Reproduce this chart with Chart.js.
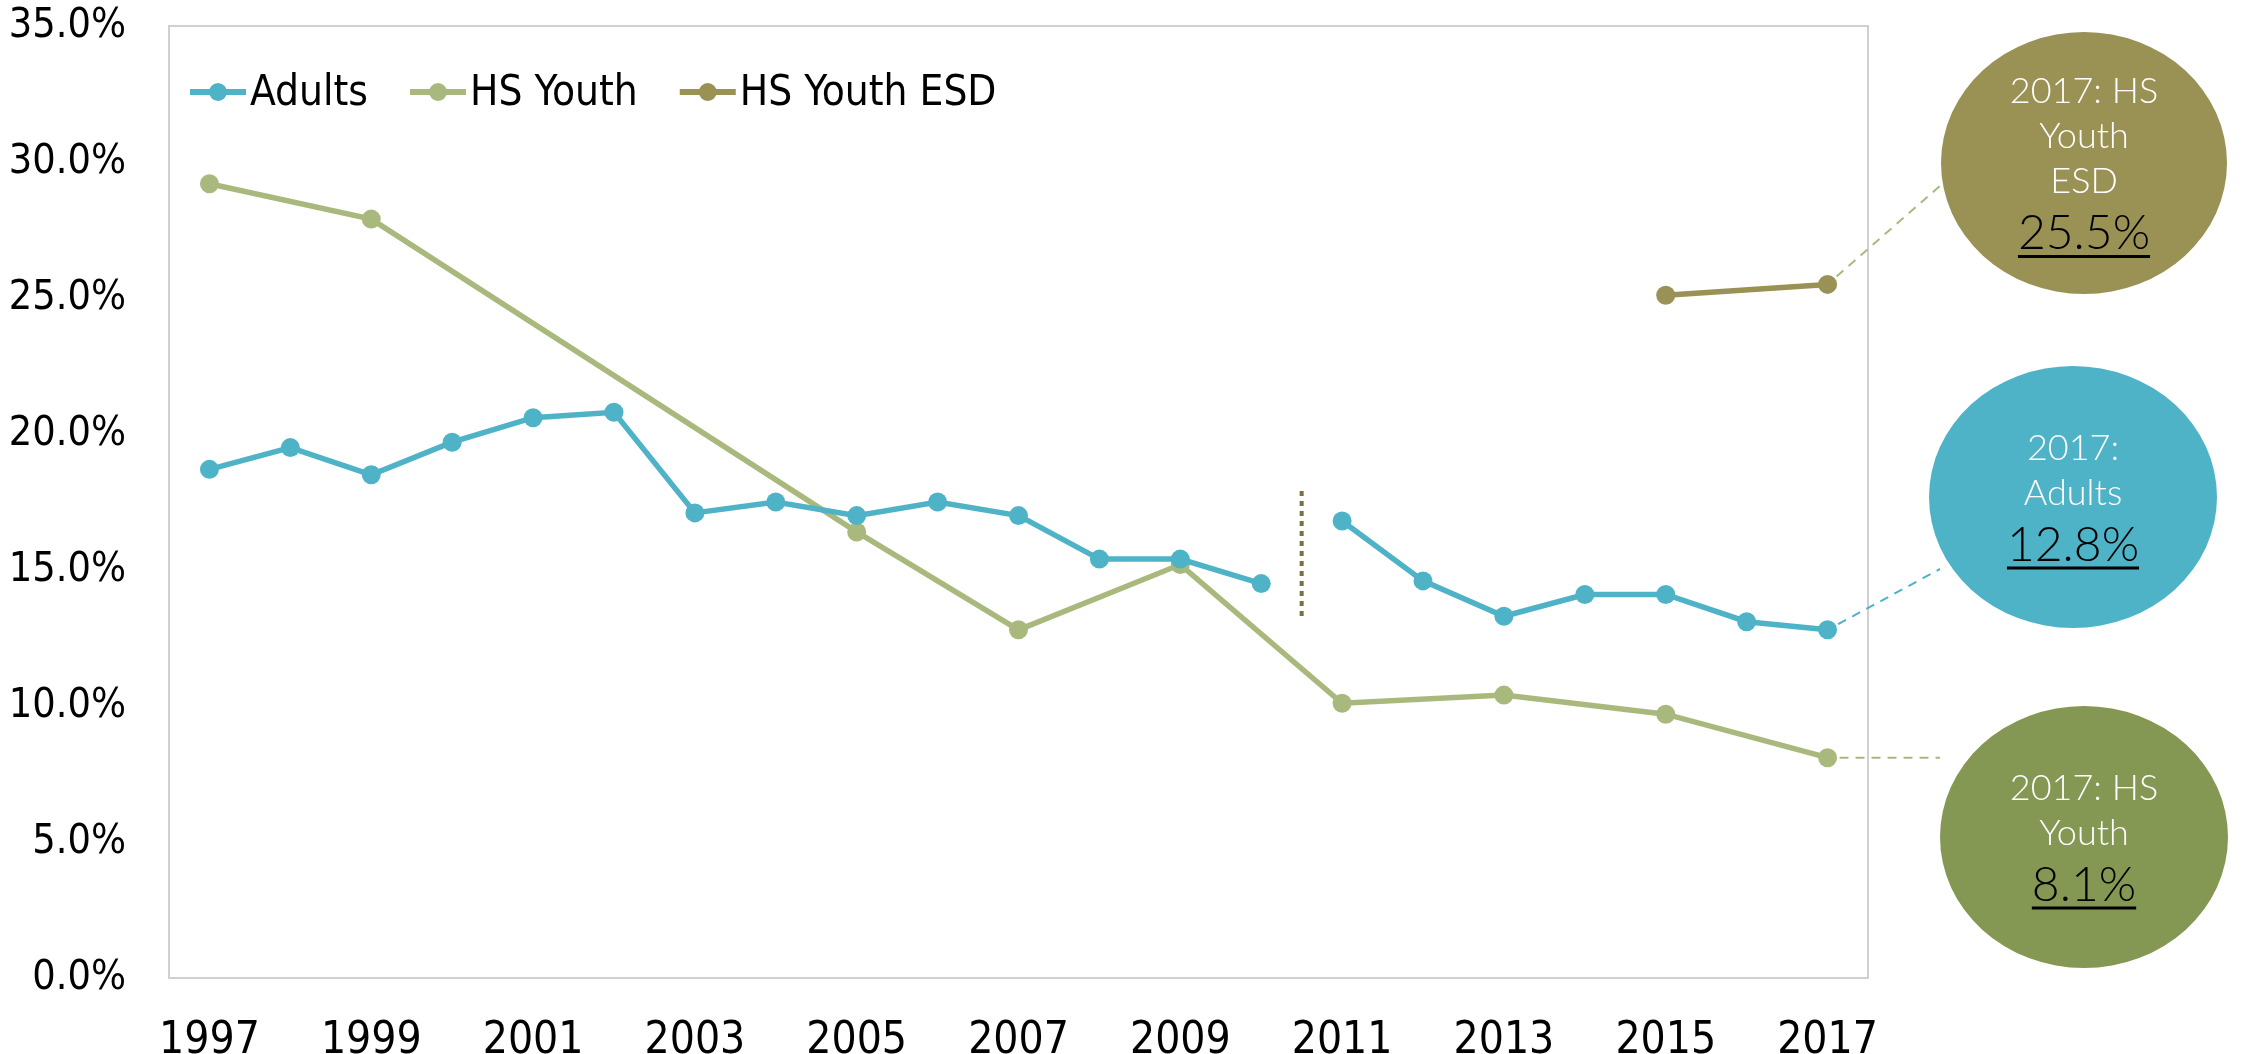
<!DOCTYPE html>
<html>
<head>
<meta charset="utf-8">
<title>Smoking rates</title>
<script src="https://cdn.jsdelivr.net/npm/chart.js@4.4.1/dist/chart.umd.min.js"></script>
<style>
    html, body { margin: 0; padding: 0; background: #fff; }
    #wrap { width: 2245px; height: 1054px; }
</style>
</head>
<body>
<div id="wrap"><canvas id="lineChart" width="2245" height="1054"></canvas></div>
<script>
// Data (percent)
const years = ['1997', '1998', '1999', '2000', '2001', '2002', '2003', '2004', '2005', '2006', '2007',
    '2008', '2009', '2010', '2011', '2012', '2013', '2014', '2015', '2016', '2017'];
const adults = [18.7, 19.5, 18.5, 19.7, 20.6, 20.8, 17.1, 17.5, 17.0, 17.5, 17.0,
    15.4, 15.4, 14.5, 16.8, 14.6, 13.3, 14.1, 14.1, 13.1, 12.8];
const hsYouth = [29.2, null, 27.9, null, null, null, null, null, 16.4, null, 12.8,
    null, 15.2, null, 10.1, null, 10.4, null, 9.7, null, 8.1];
const hsYouthEsd = [null, null, null, null, null, null, null, null, null, null, null,
    null, null, null, null, null, null, null, 25.1, null, 25.5];
const yTicks = [0, 5, 10, 15, 20, 25, 30, 35];
const seriesNames = ['Adults', 'HS Youth', 'HS Youth ESD'];
const seriesColors = ['#4fb3c8', '#a9b97d', '#9a9155'];
const calloutFills = ['#4fb3c8', '#849753', '#9a9155'];
const calloutLines = [['2017:', 'Adults'], ['2017: HS', 'Youth'], ['2017: HS', 'Youth', 'ESD']];
const surveyBreak = ['2010', '2011'];  // methodology change marker
const breakSpan = [13.2, 17.9];

const axisFont = "'Liberation Sans Narrow', 'DejaVu Sans Condensed', sans-serif";
const calloutFont = "Lato, 'Open Sans', sans-serif";

// callout bubbles (pixel layout only)
const bubbles = [
    { cx: 2073, cy: 497, rx: 144, ry: 131, end: [1940, 569] },
    { cx: 2084, cy: 837, rx: 144, ry: 131, end: [1940, null] },
    { cx: 2084, cy: 163, rx: 143, ry: 131, end: [1941, 185] }
];

const decor = {
    id: 'decor',
    beforeDatasetsDraw(chart) {
        const { ctx, chartArea: a } = chart;
        ctx.save();
        ctx.strokeStyle = '#d0d0d0';
        ctx.lineWidth = 2;
        ctx.strokeRect(a.left, a.top, a.right - a.left, a.bottom - a.top);
        ctx.restore();
    },
    afterDatasetsDraw(chart) {
        const { ctx, chartArea: a } = chart;
        const xs = chart.scales.x, ys = chart.scales.y;

        // dotted break line between 2010 and 2011
        const bx = (xs.getPixelForValue(years.indexOf(surveyBreak[0])) + xs.getPixelForValue(years.indexOf(surveyBreak[1]))) / 2;
        ctx.save();
        ctx.strokeStyle = '#7a6f45';
        ctx.lineWidth = 4;
        ctx.setLineDash([5, 5]);
        ctx.beginPath();
        ctx.moveTo(bx, ys.getPixelForValue(breakSpan[1]));
        ctx.lineTo(bx, ys.getPixelForValue(breakSpan[0]));
        ctx.stroke();
        ctx.restore();

        // legend inside the plot
        ctx.save();
        ctx.font = '42px ' + axisFont;
        ctx.textBaseline = 'middle';
        let lx = a.left + 21;
        const ly = a.top + 66;
        seriesNames.forEach((name, i) => {
            ctx.strokeStyle = seriesColors[i];
            ctx.fillStyle = seriesColors[i];
            ctx.lineWidth = 6;
            ctx.beginPath();
            ctx.moveTo(lx, ly);
            ctx.lineTo(lx + 56, ly);
            ctx.stroke();
            ctx.beginPath();
            ctx.arc(lx + 28, ly, 9, 0, Math.PI * 2);
            ctx.fill();
            ctx.fillStyle = '#000';
            ctx.fillText(name, lx + 60, ly + 2);
            lx += 60 + ctx.measureText(name).width + 42;
        });
        ctx.restore();

        // connectors + bubbles
        const last = years.length - 1;
        chart.data.datasets.forEach((ds, i) => {
            const b = bubbles[i];
            const px = xs.getPixelForValue(last);
            const py = ys.getPixelForValue(ds.data[last]);
            const ex = b.end[0], ey = b.end[1] === null ? py : b.end[1];
            ctx.save();
            ctx.strokeStyle = i === 0 ? seriesColors[0] : seriesColors[1];
            ctx.lineWidth = 2;
            ctx.setLineDash([9, 7]);
            ctx.beginPath();
            const ang = Math.atan2(ey - py, ex - px);
            ctx.moveTo(px + Math.cos(ang) * 12, py + Math.sin(ang) * 12);
            ctx.lineTo(ex, ey);
            ctx.stroke();
            ctx.setLineDash([]);

            ctx.fillStyle = calloutFills[i];
            ctx.beginPath();
            ctx.ellipse(b.cx, b.cy, b.rx, b.ry, 0, 0, Math.PI * 2);
            ctx.fill();

            const lines = calloutLines[i];
            const total = 45 * (lines.length - 1) + 56;
            let y = b.cy - total / 2 + 13;
            ctx.textAlign = 'center';
            ctx.textBaseline = 'alphabetic';
            ctx.fillStyle = '#fff';
            ctx.font = '300 36px ' + calloutFont;
            lines.forEach(t => { ctx.fillText(t, b.cx, y); y += 45; });
            y += 11;
            const val = ds.data[last].toFixed(1) + '%';
            ctx.fillStyle = '#000';
            ctx.font = '300 48px ' + calloutFont;
            ctx.fillText(val, b.cx, y);
            const w = ctx.measureText(val).width;
            ctx.fillRect(b.cx - w / 2, y + 6, w, 3);
            ctx.restore();
        });
    }
};

const ctx = document.getElementById('lineChart').getContext('2d');
new Chart(ctx, {
    type: 'line',
    data: {
        labels: years,
        datasets: [
            {
                label: seriesNames[0], data: adults,
                borderColor: seriesColors[0], backgroundColor: seriesColors[0],
                segment: { borderColor: c => years[c.p0DataIndex] === surveyBreak[0] ? 'transparent' : undefined }
            },
            { label: seriesNames[1], data: hsYouth, borderColor: seriesColors[1], backgroundColor: seriesColors[1], spanGaps: true },
            { label: seriesNames[2], data: hsYouthEsd, borderColor: seriesColors[2], backgroundColor: seriesColors[2], spanGaps: true }
        ]
    },
    options: {
        responsive: false,
        animation: false,
        maintainAspectRatio: false,
        elements: {
            line: { borderWidth: 5.5, tension: 0 },
            point: { radius: 9.5, borderWidth: 0, hoverRadius: 9.5 }
        },
        layout: { padding: { left: 0, top: 26, right: 377, bottom: 0 } },
        plugins: { legend: { display: false }, tooltip: { enabled: false } },
        scales: {
            x: {
                offset: true,
                grid: { display: false, drawTicks: false },
                border: { display: false },
                afterFit: s => { s.height = 76; s.paddingLeft = 0; s.paddingRight = 0; },
                ticks: {
                    autoSkip: false, maxRotation: 0, padding: 37, color: '#000',
                    font: { family: axisFont, size: 44 },
                    callback: (v, i) => (i % 2 === 0 ? years[i] : null)
                }
            },
            y: {
                min: yTicks[0], max: yTicks[yTicks.length - 1],
                grid: { display: false, drawTicks: false },
                border: { display: false },
                afterFit: s => { s.width = 169; s.paddingTop = 0; s.paddingBottom = 0; },
                afterBuildTicks: s => { s.ticks = yTicks.map(v => ({ value: v })); },
                ticks: {
                    padding: 43, color: '#000',
                    font: { family: axisFont, size: 41 },
                    callback: v => v.toFixed(1) + '%'
                }
            }
        }
    },
    plugins: [decor]
});
</script>
</body>
</html>
